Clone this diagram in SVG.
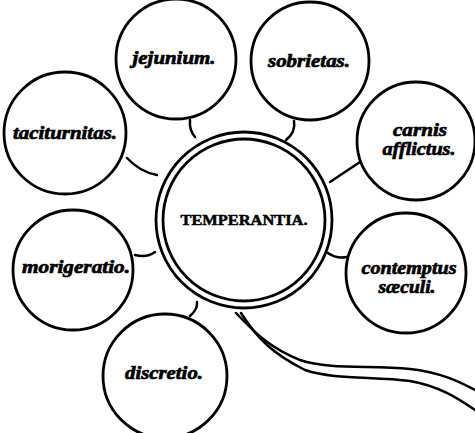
<svg xmlns="http://www.w3.org/2000/svg" width="475" height="433" viewBox="0 0 475 433">
<style>
.c{fill:none;stroke:#000;stroke-width:2.8}
.l{fill:none;stroke:#000;stroke-width:2.5;stroke-linecap:round}
.t{font-family:"Liberation Serif",serif;font-weight:bold;font-style:italic;font-size:19px;text-anchor:middle;fill:#000;stroke:#000;stroke-width:0.7}
.m{font-family:"Liberation Serif",serif;font-weight:bold;font-size:15px;text-anchor:middle;fill:#000;stroke:#000;stroke-width:0.5}
</style>
<rect width="475" height="433" fill="#fff"/>
<g id="connectors">
<path class="l" d="M190,120 Q189,130 195,137"/>
<path class="l" d="M294,121 Q296,132 286,140"/>
<path class="l" d="M127,158 Q140,172 157,175"/>
<path class="l" d="M360,162 Q345,172 330,182"/>
<path class="l" d="M135,255 Q147,258 155,252"/>
<path class="l" d="M347,257 Q336,259 328,253"/>
<path class="l" d="M190,316 Q198,309 197,302"/>
</g>
<g id="tail">
<path class="l" d="M236,313 C255,333 270,348 300,360 C330,370 370,365 410,369 C440,372 460,382 475,390"/>
<path class="l" d="M241,313 C258,340 275,355 305,370 C335,380 375,376 410,381 C440,386 460,400 475,410"/>
</g>
<g id="temperantia">
<circle class="c" cx="244" cy="220" r="88"/>
<circle class="c" cx="244" cy="220" r="81"/>
<text class="m" x="244" y="225" textLength="127" lengthAdjust="spacingAndGlyphs">TEMPERANTIA.</text>
</g>
<g id="jejunium">
<circle class="c" cx="176" cy="59" r="60"/>
<text class="t" x="174" y="64" textLength="83" lengthAdjust="spacingAndGlyphs">jejunium.</text>
</g>
<g id="sobrietas">
<circle class="c" cx="310" cy="61" r="59"/>
<text class="t" x="309" y="67" textLength="82" lengthAdjust="spacingAndGlyphs">sobrietas.</text>
</g>
<g id="taciturnitas">
<circle class="c" cx="65" cy="133" r="61"/>
<text class="t" x="65" y="139" textLength="104" lengthAdjust="spacingAndGlyphs">taciturnitas.</text>
</g>
<g id="carnis">
<circle class="c" cx="416" cy="141" r="59"/>
<text class="t" x="420" y="136" textLength="54" lengthAdjust="spacingAndGlyphs">carnis</text>
<text class="t" x="419" y="155" textLength="73" lengthAdjust="spacingAndGlyphs">afflictus.</text>
</g>
<g id="morigeratio">
<circle class="c" cx="73" cy="270" r="60"/>
<text class="t" x="76" y="273" textLength="108" lengthAdjust="spacingAndGlyphs">morigeratio.</text>
</g>
<g id="contemptus">
<circle class="c" cx="406" cy="273" r="60"/>
<text class="t" x="409" y="274" textLength="95" lengthAdjust="spacingAndGlyphs">contemptus</text>
<text class="t" x="407" y="293" textLength="57" lengthAdjust="spacingAndGlyphs">sæculi.</text>
</g>
<g id="discretio">
<circle class="c" cx="165" cy="376" r="62"/>
<text class="t" x="164" y="379" textLength="78" lengthAdjust="spacingAndGlyphs">discretio.</text>
</g>
</svg>
